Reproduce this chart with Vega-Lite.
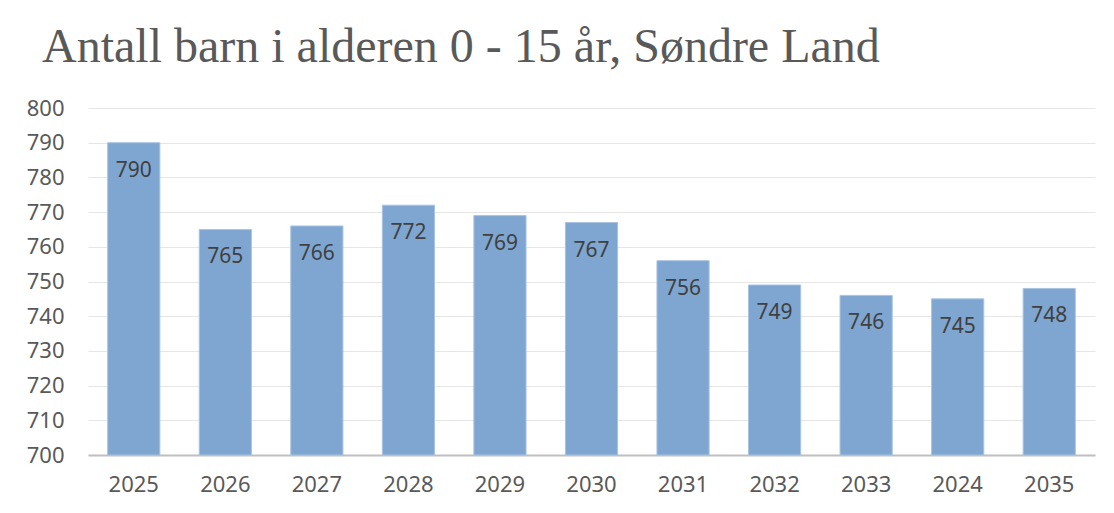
{
  "$schema": "https://vega.github.io/schema/vega-lite/v6.json",
  "width": 1007,
  "height": 347,
  "autosize": {"type": "none"},
  "padding": {"left": 88, "top": 108, "right": 19, "bottom": 58},
  "background": "white",
  "title": {
    "text": "Antall barn i alderen 0 - 15 år, Søndre Land",
    "anchor": "start",
    "frame": "group",
    "dx": -46,
    "offset": 25,
    "font": "Liberation Serif",
    "fontSize": 48,
    "fontWeight": "normal",
    "color": "#595959"
  },
  "data": {
    "values": [
      {"year": "2025", "antall": 790},
      {"year": "2026", "antall": 765},
      {"year": "2027", "antall": 766},
      {"year": "2028", "antall": 772},
      {"year": "2029", "antall": 769},
      {"year": "2030", "antall": 767},
      {"year": "2031", "antall": 756},
      {"year": "2032", "antall": 749},
      {"year": "2033", "antall": 746},
      {"year": "2024", "antall": 745},
      {"year": "2035", "antall": 748}
    ]
  },
  "encoding": {
    "x": {
      "field": "year",
      "type": "nominal",
      "sort": null,
      "scale": {"paddingInner": 0.43, "paddingOuter": 0.215},
      "axis": {
        "title": null,
        "labelAngle": 0,
        "labelFont": "Noto Sans",
        "labelFontSize": 22,
        "labelColor": "#595959",
        "labelPadding": 19,
        "ticks": false,
        "domainColor": "#bfbfbf",
        "domainWidth": 2,
        "grid": false
      }
    },
    "y": {
      "field": "antall",
      "type": "quantitative",
      "scale": {"domain": [700, 800], "zero": false, "clamp": true},
      "axis": {
        "title": null,
        "values": [700, 710, 720, 730, 740, 750, 760, 770, 780, 790, 800],
        "labelFont": "Noto Sans",
        "labelFontSize": 22,
        "labelColor": "#595959",
        "labelPadding": 24,
        "ticks": false,
        "domain": false,
        "gridColor": "#e6e6e6",
        "gridWidth": 1
      }
    }
  },
  "layer": [
    {
      "mark": {"type": "bar", "color": "#7ea6d1", "stroke": "#a9c4e3", "strokeWidth": 1}
    },
    {
      "mark": {"type": "text", "baseline": "middle", "dy": 28, "font": "Noto Sans", "fontSize": 21, "color": "#404040"},
      "encoding": {"text": {"field": "antall", "type": "quantitative"}}
    }
  ],
  "config": {"view": {"stroke": null}}
}
